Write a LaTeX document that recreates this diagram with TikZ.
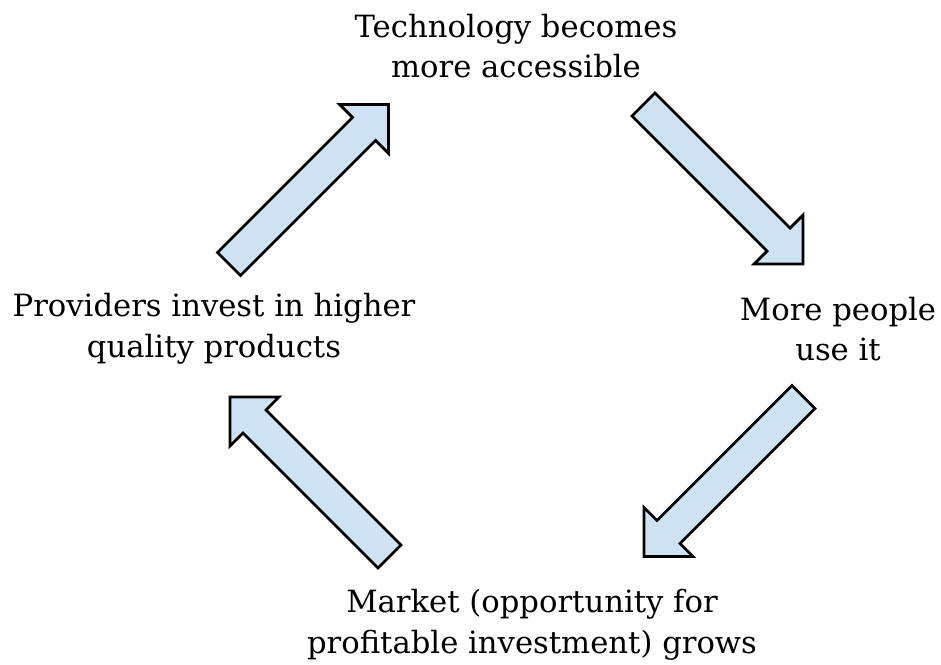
\documentclass[tikz,border=0pt]{standalone}
\usepackage{fontspec}
\setmainfont{DejaVu Serif}
\usetikzlibrary{positioning}
\definecolor{arrowblue}{RGB}{207,226,243}

\tikzset{
  stage/.style={align=center, inner sep=0pt, font=\fontsize{23}{30.5}\selectfont},
  blockarrow/.pic={
    \draw[line width=2pt, line join=miter, fill=arrowblue]
      (0,-16.3) -- (191,-16.3) -- (191,-34.6) -- (225.6,0)
      -- (191,34.6) -- (191,16.3) -- (0,16.3) -- cycle;
  }
}

\begin{document}
\begin{tikzpicture}[x=0.75pt,y=-0.75pt]
  \useasboundingbox (0,0) rectangle (941,664);

  % Stages of the cycle
  \node[stage] (tech)   at (516,46)  {Technology becomes\\more accessible};
  \node[stage] (people) at (838,329) {More people\\use it};
  \node[stage] (market) at (532,625) {Market (opportunity for\\profitable investment) grows};
  \node[stage] (invest) at (214,329) {Providers invest in higher\\quality products};

  % Arrow tails
  \coordinate (a1) at (229,264);
  \coordinate (a2) at (643.5,104.5);
  \coordinate (a3) at (803.5,397);
  \coordinate (a4) at (389.5,556.5);

  % Arrows
  \pic[rotate=45]   at (a1) {blockarrow};
  \pic[rotate=-45]  at (a2) {blockarrow};
  \pic[rotate=-135] at (a3) {blockarrow};
  \pic[rotate=135]  at (a4) {blockarrow};
\end{tikzpicture}
\end{document}
